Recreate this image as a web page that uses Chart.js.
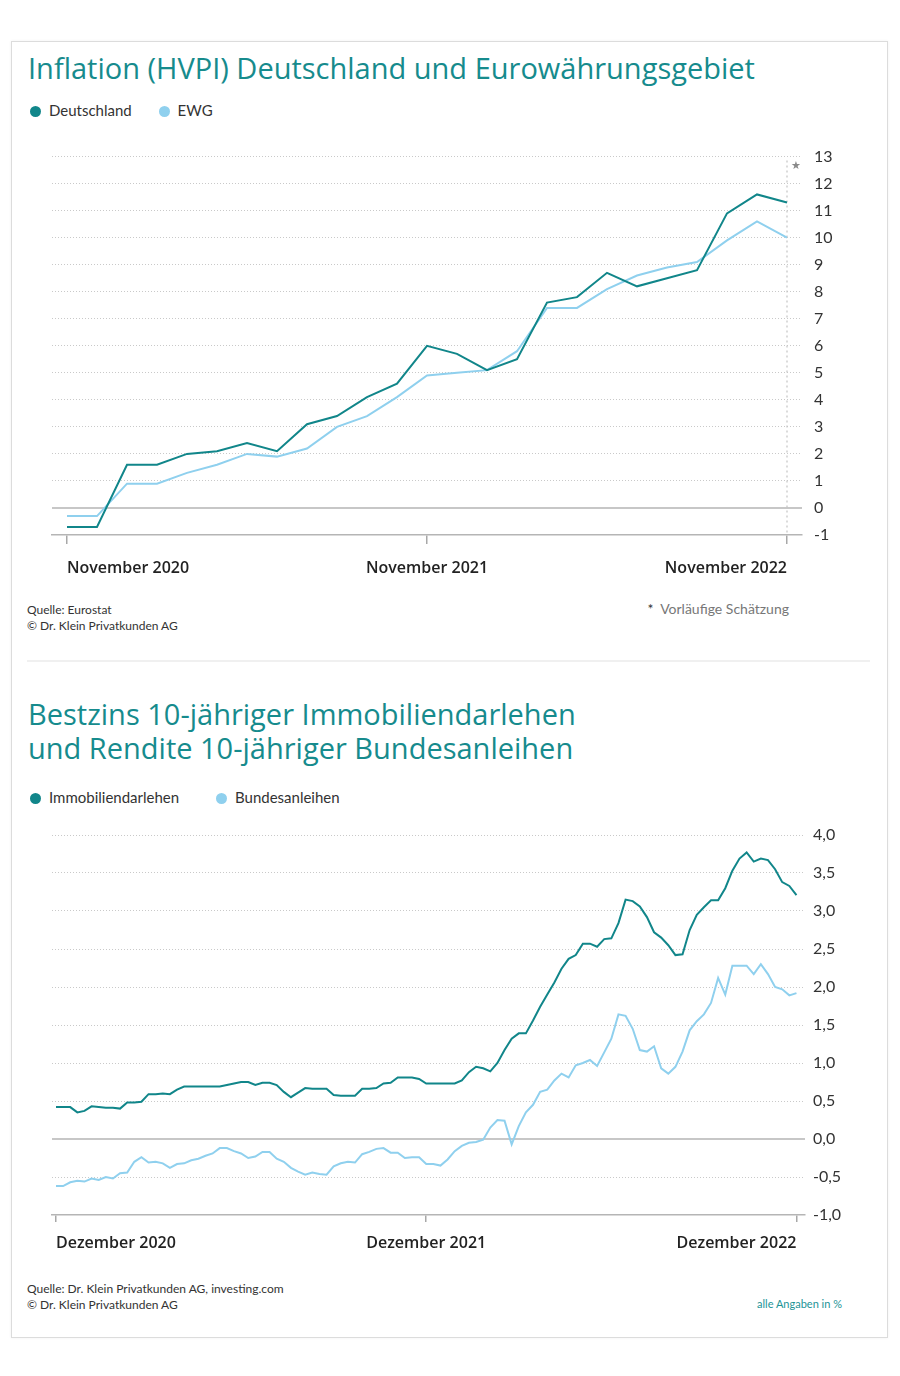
<!DOCTYPE html>
<html lang="de">
<head>
<meta charset="utf-8">
<script src="https://cdn.jsdelivr.net/npm/chart.js@4.4.0/dist/chart.umd.min.js"></script>
<style>
  body { margin: 0; background: #fff; font-family: Lato, "Open Sans", sans-serif; }
  #page { position: relative; width: 900px; height: 1376px; overflow: hidden; }
  .card { position: absolute; left: 11px; top: 41px; width: 875px; height: 1295px;
          border: 1px solid #dcdcdc; box-shadow: 0 0 3px rgba(0,0,0,0.06); }
  .title { position: absolute; left: 28px; color: #168b8d; font-family: "Open Sans", sans-serif;
           font-size: 29px; line-height: 34px; white-space: nowrap; }
  .legend { position: absolute; left: 30px; font-size: 15px; line-height: 18px; color: #333; white-space: nowrap; }
  .legend .item { display: inline-block; }
  .legend .dot { display: inline-block; width: 11px; height: 11px; border-radius: 50%; margin-right: 8px; vertical-align: -1px; }
  .src { position: absolute; left: 27px; font-size: 12px; line-height: 16px; color: #333; white-space: nowrap; }
  .note { position: absolute; font-size: 14px; color: #777; white-space: nowrap; }
  .sep { position: absolute; left: 27px; top: 660px; width: 843px; height: 2px; background: #f0f0f0; }
  canvas { position: absolute; }
</style>
</head>
<body>
<div id="page">
  <div class="card"></div>

  <div class="title" style="top:51px">Inflation (HVPI) Deutschland und Eurowährungsgebiet</div>
  <div class="legend" style="top:101px">
    <span class="item" style="margin-right:23px"><span class="dot" style="background:#11868a"></span>Deutschland</span>
    <span class="item"><span class="dot" style="background:#8fd0ee"></span>EWG</span>
  </div>
  <canvas id="inflChart" width="820" height="455" style="left:40px; top:135px"></canvas>
  <div class="src" style="top:602px">Quelle: Eurostat<br>© Dr. Klein Privatkunden AG</div>
  <div class="note" style="right:111px; top:600px"><span style="color:#333">*</span>&nbsp; Vorläufige Schätzung</div>

  <div class="sep"></div>

  <div class="title" style="top:697px">Bestzins 10-jähriger Immobiliendarlehen<br>und Rendite 10-jähriger Bundesanleihen</div>
  <div class="legend" style="top:788px">
    <span class="item" style="margin-right:33px"><span class="dot" style="background:#11868a"></span>Immobiliendarlehen</span>
    <span class="item"><span class="dot" style="background:#8fd0ee"></span>Bundesanleihen</span>
  </div>
  <canvas id="zinsChart" width="820" height="450" style="left:40px; top:815px"></canvas>
  <div class="src" style="top:1281px">Quelle: Dr. Klein Privatkunden AG, investing.com<br>© Dr. Klein Privatkunden AG</div>
  <div class="note" style="right:58px; top:1297px; font-size:11px; color:#1c9396">alle Angaben in %</div>
</div>

<script>
// Inflation, monatlich Nov 2020 - Nov 2022 (Werte in %)
var inflMonate = ['Nov 2020', 'Dez 2020', 'Jan 2021', 'Feb 2021', 'Mär 2021', 'Apr 2021', 'Mai 2021',
  'Jun 2021', 'Jul 2021', 'Aug 2021', 'Sep 2021', 'Okt 2021', 'Nov 2021', 'Dez 2021', 'Jan 2022',
  'Feb 2022', 'Mär 2022', 'Apr 2022', 'Mai 2022', 'Jun 2022', 'Jul 2022', 'Aug 2022', 'Sep 2022',
  'Okt 2022', 'Nov 2022']
var inflDeutschland = [-0.7, -0.7, 1.6, 1.6, 2.0, 2.1, 2.4, 2.1, 3.1, 3.4, 4.1, 4.6, 6.0, 5.7, 5.1,
  5.5, 7.6, 7.8, 8.7, 8.2, 8.5, 8.8, 10.9, 11.6, 11.3]
var inflEWG = [-0.3, -0.3, 0.9, 0.9, 1.3, 1.6, 2.0, 1.9, 2.2, 3.0, 3.4, 4.1, 4.9, 5.0, 5.1,
  5.8, 7.4, 7.4, 8.1, 8.6, 8.9, 9.1, 9.9, 10.6, 10.0]
var inflTickPos = [0, 12, 24]
var inflTickText = ['November 2020', 'November 2021', 'November 2022']

// Zinsen, woechentlich Dez 2020 - Dez 2022 (Werte in %)
var zinsImmo = [0.42, 0.42, 0.42, 0.35, 0.37, 0.43, 0.42, 0.41, 0.41, 0.40,
  0.48, 0.48, 0.49, 0.59, 0.59, 0.60, 0.59, 0.65, 0.69, 0.69,
  0.69, 0.69, 0.69, 0.69, 0.71, 0.73, 0.75, 0.75, 0.71, 0.74,
  0.74, 0.71, 0.62, 0.55, 0.61, 0.67, 0.66, 0.66, 0.66, 0.58,
  0.57, 0.57, 0.57, 0.66, 0.66, 0.67, 0.73, 0.74, 0.81, 0.81,
  0.81, 0.79, 0.73, 0.73, 0.73, 0.73, 0.73, 0.77, 0.88, 0.95,
  0.93, 0.89, 1.00, 1.17, 1.32, 1.39, 1.39, 1.56, 1.74, 1.90,
  2.06, 2.24, 2.37, 2.42, 2.57, 2.57, 2.53, 2.63, 2.64, 2.84,
  3.15, 3.13, 3.06, 2.92, 2.72, 2.65, 2.55, 2.42, 2.43, 2.75,
  2.95, 3.05, 3.14, 3.14, 3.30, 3.53, 3.69, 3.77, 3.65, 3.69,
  3.67, 3.55, 3.38, 3.33, 3.21]
var zinsBund = [-0.62, -0.62, -0.57, -0.55, -0.56, -0.52, -0.54, -0.50, -0.52, -0.45,
  -0.44, -0.30, -0.24, -0.31, -0.30, -0.32, -0.38, -0.33, -0.32, -0.28,
  -0.26, -0.22, -0.19, -0.12, -0.12, -0.16, -0.19, -0.25, -0.23, -0.17,
  -0.17, -0.26, -0.30, -0.38, -0.43, -0.47, -0.44, -0.46, -0.47, -0.36,
  -0.32, -0.30, -0.31, -0.20, -0.17, -0.13, -0.12, -0.18, -0.18, -0.25,
  -0.24, -0.24, -0.33, -0.33, -0.35, -0.27, -0.16, -0.09, -0.05, -0.04,
  -0.01, 0.15, 0.25, 0.24, -0.07, 0.17, 0.35, 0.45, 0.62, 0.65,
  0.77, 0.86, 0.81, 0.97, 1.00, 1.04, 0.96, 1.14, 1.32, 1.64,
  1.62, 1.45, 1.17, 1.15, 1.22, 0.93, 0.86, 0.95, 1.15, 1.43,
  1.55, 1.64, 1.79, 2.12, 1.90, 2.28, 2.28, 2.28, 2.17, 2.30,
  2.17, 2.00, 1.97, 1.89, 1.92]
var zinsTickPos = [0, 52, 104]
var zinsTickText = ['Dezember 2020', 'Dezember 2021', 'Dezember 2022']

var dunkel = '#11868a'
var hell = '#8fd0ee'

// Nulllinie, und beim Inflationschart die gestrichelte Linie zur Schaetzung
var nullLinie = {
  id: 'nullLinie',
  beforeDatasetsDraw: function (chart, args, opts) {
    var ctx = chart.ctx
    var area = chart.chartArea
    var y0 = chart.scales.y.getPixelForValue(0)
    ctx.save()
    ctx.strokeStyle = '#b5b5b5'
    ctx.lineWidth = 1.5
    ctx.beginPath()
    ctx.moveTo(area.left, y0)
    ctx.lineTo(area.right, y0)
    ctx.stroke()
    if (opts.markIndex != null) {
      var x = chart.scales.x.getPixelForValue(opts.markIndex)
      ctx.setLineDash([2, 3])
      ctx.strokeStyle = '#c4c4c4'
      ctx.lineWidth = 1.2
      ctx.beginPath()
      ctx.moveTo(x, area.top + 4)
      ctx.lineTo(x, area.bottom)
      ctx.stroke()
      ctx.setLineDash([])
      ctx.fillStyle = '#8a8a8a'
      ctx.font = '11px "DejaVu Sans"'
      ctx.textBaseline = 'middle'
      ctx.fillText('\u2605', x + 4, area.top + 10)
    }
    ctx.restore()
  }
}

function yGrid(ctx) {
  var v = ctx.tick ? ctx.tick.value : null
  if (v === 0 || v === ctx.scale.min) return 'rgba(0,0,0,0)'
  return '#c9c9c9'
}

function xAchse(tickPos, tickText, min, max, tickLen, pad, height, fontSize) {
  return {
    type: 'linear',
    min: min,
    max: max,
    afterBuildTicks: function (scale) {
      scale.ticks = tickPos.map(function (p) { return { value: p } })
    },
    afterFit: function (scale) { scale.height = height },
    grid: { drawOnChartArea: false, drawTicks: true, tickLength: tickLen, color: '#a8a8a8', lineWidth: 1.5 },
    border: { display: true, color: '#b5b5b5', width: 1.5 },
    ticks: {
      autoSkip: false,
      maxRotation: 0,
      align: 'inner',
      padding: pad,
      color: '#222',
      font: { family: '"Open Sans"', size: fontSize, weight: '600' },
      callback: function (value, index) { return tickText[index] }
    }
  }
}

var inflCtx = document.getElementById('inflChart').getContext('2d')
var inflChart = new Chart(inflCtx, {
  type: 'line',
  data: {
    datasets: [
      {
        label: 'Deutschland',
        data: inflDeutschland.map(function (v, i) { return { x: i, y: v } }),
        borderColor: dunkel,
        borderWidth: 2,
        pointRadius: 0,
        tension: 0
      },
      {
        label: 'EWG',
        data: inflEWG.map(function (v, i) { return { x: i, y: v } }),
        borderColor: hell,
        borderWidth: 2,
        pointRadius: 0,
        tension: 0
      }
    ]
  },
  options: {
    responsive: false,
    animation: false,
    layout: { padding: { left: 12, top: 11, right: 0, bottom: 0 } },
    scales: {
      x: xAchse(inflTickPos, inflTickText, -0.5, inflMonate.length - 0.5, 9, 15, 55, 16),
      y: {
        position: 'right',
        min: -1,
        max: 13,
        afterFit: function (scale) { scale.width = 58 },
        grid: { color: yGrid, lineWidth: 1, drawTicks: false },
        border: { display: false, dash: [1, 2] },
        ticks: { stepSize: 1, padding: 12, color: '#333', font: { family: 'Lato', size: 16 } }
      }
    },
    plugins: {
      legend: { display: false },
      tooltip: { enabled: false },
      nullLinie: { markIndex: inflMonate.length - 1 }
    }
  },
  plugins: [nullLinie]
})

var zinsCtx = document.getElementById('zinsChart').getContext('2d')
var zinsChart = new Chart(zinsCtx, {
  type: 'line',
  data: {
    datasets: [
      {
        label: 'Immobiliendarlehen',
        data: zinsImmo.map(function (v, i) { return { x: i, y: v } }),
        borderColor: dunkel,
        borderWidth: 2,
        pointRadius: 0,
        tension: 0
      },
      {
        label: 'Bundesanleihen',
        data: zinsBund.map(function (v, i) { return { x: i, y: v } }),
        borderColor: hell,
        borderWidth: 2,
        pointRadius: 0,
        tension: 0
      }
    ]
  },
  options: {
    responsive: false,
    animation: false,
    layout: { padding: { left: 12, top: 20, right: 0, bottom: 0 } },
    scales: {
      x: xAchse(zinsTickPos, zinsTickText, -0.56, 105.2, 7, 12, 50, 16),
      y: {
        position: 'right',
        min: -1,
        max: 4,
        afterFit: function (scale) { scale.width = 55 },
        grid: { color: yGrid, lineWidth: 1, drawTicks: false },
        border: { display: false, dash: [1, 2] },
        ticks: {
          stepSize: 0.5,
          padding: 8,
          color: '#333',
          font: { family: 'Lato', size: 16 },
          callback: function (v) { return v.toFixed(1).replace('.', ',') }
        }
      }
    },
    plugins: {
      legend: { display: false },
      tooltip: { enabled: false },
      nullLinie: {}
    }
  },
  plugins: [nullLinie]
})
</script>
</body>
</html>
